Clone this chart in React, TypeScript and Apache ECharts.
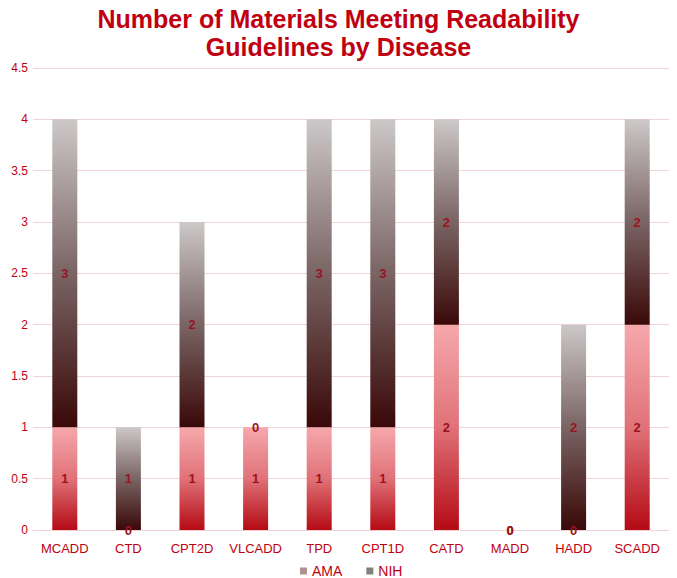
import React, { useEffect, useRef } from "react";
import * as echarts from "echarts";

const categories = ["MCADD", "CTD", "CPT2D", "VLCADD", "TPD", "CPT1D", "CATD", "MADD", "HADD", "SCADD"];
const amaValues = [1, 0, 1, 1, 1, 1, 2, 0, 0, 2];
const nihValues = [3, 1, 2, 0, 3, 3, 2, 0, 2, 2];
const yTicks = { min: 0, max: 4.5, interval: 0.5 };

const RED = "#c00010";
const FONT = "Liberation Sans, Arial, sans-serif";

export default function App() {
  const ref = useRef<HTMLDivElement>(null);
  useEffect(() => {
    if (!ref.current) return;
    const chart = echarts.init(ref.current, undefined, { renderer: "svg" });
    const amaGrad = new echarts.graphic.LinearGradient(0, 0, 0, 1, [
      { offset: 0, color: "#f5a8ac" },
      { offset: 0.5, color: "#e07278" },
      { offset: 1, color: "#b40a14" },
    ]);
    const nihGrad = new echarts.graphic.LinearGradient(0, 0, 0, 1, [
      { offset: 0, color: "#cdc8c8" },
      { offset: 0.5, color: "#7a6464" },
      { offset: 1, color: "#3a0808" },
    ]);
    const labelCfg = {
      show: true,
      position: "inside" as const,
      color: "#9a1420",
      fontSize: 13,
      fontWeight: "bold" as const,
      fontFamily: FONT,
    };
    chart.setOption({
      animation: false,
      title: {
        text: "Number of Materials Meeting Readability\nGuidelines by Disease",
        left: "center",
        top: 0,
        textStyle: {
          color: RED,
          fontSize: 25,
          fontWeight: "bold",
          fontFamily: FONT,
          lineHeight: 28,
        },
      },
      grid: { left: 33, right: 8, top: 68, bottom: 48, containLabel: false },
      legend: {
        bottom: -5,
        left: 295,
        itemWidth: 7,
        itemHeight: 7,
        itemGap: 24,
        icon: "rect",
        textStyle: { color: RED, fontSize: 14, fontFamily: FONT },
        data: [
          { name: "AMA", itemStyle: { color: "#b09090" } },
          { name: "NIH", itemStyle: { color: "#808080" } },
        ],
      },
      xAxis: {
        type: "category",
        data: categories,
        axisTick: { show: false },
        axisLine: { show: true, lineStyle: { color: "#f0d0d4" } },
        axisLabel: { color: RED, fontSize: 13, margin: 12, interval: 0, fontFamily: FONT },
      },
      yAxis: {
        type: "value",
        min: yTicks.min,
        max: yTicks.max,
        interval: yTicks.interval,
        axisLine: { show: false },
        axisTick: { show: false },
        splitLine: { lineStyle: { color: "#f2d3d7", width: 1 } },
        axisLabel: { color: RED, fontSize: 12, margin: 5, fontFamily: FONT },
      },
      series: [
        {
          name: "AMA",
          type: "bar",
          stack: "total",
          barWidth: 25,
          data: amaValues,
          itemStyle: { color: amaGrad },
          label: labelCfg,
        },
        {
          name: "NIH",
          type: "bar",
          stack: "total",
          barWidth: 25,
          data: nihValues,
          itemStyle: { color: nihGrad },
          label: labelCfg,
        },
      ],
    });
    return () => chart.dispose();
  }, []);
  return <div ref={ref} style={{ width: 677, height: 578, margin: "-8px 0 0 -8px" }} />;
}
